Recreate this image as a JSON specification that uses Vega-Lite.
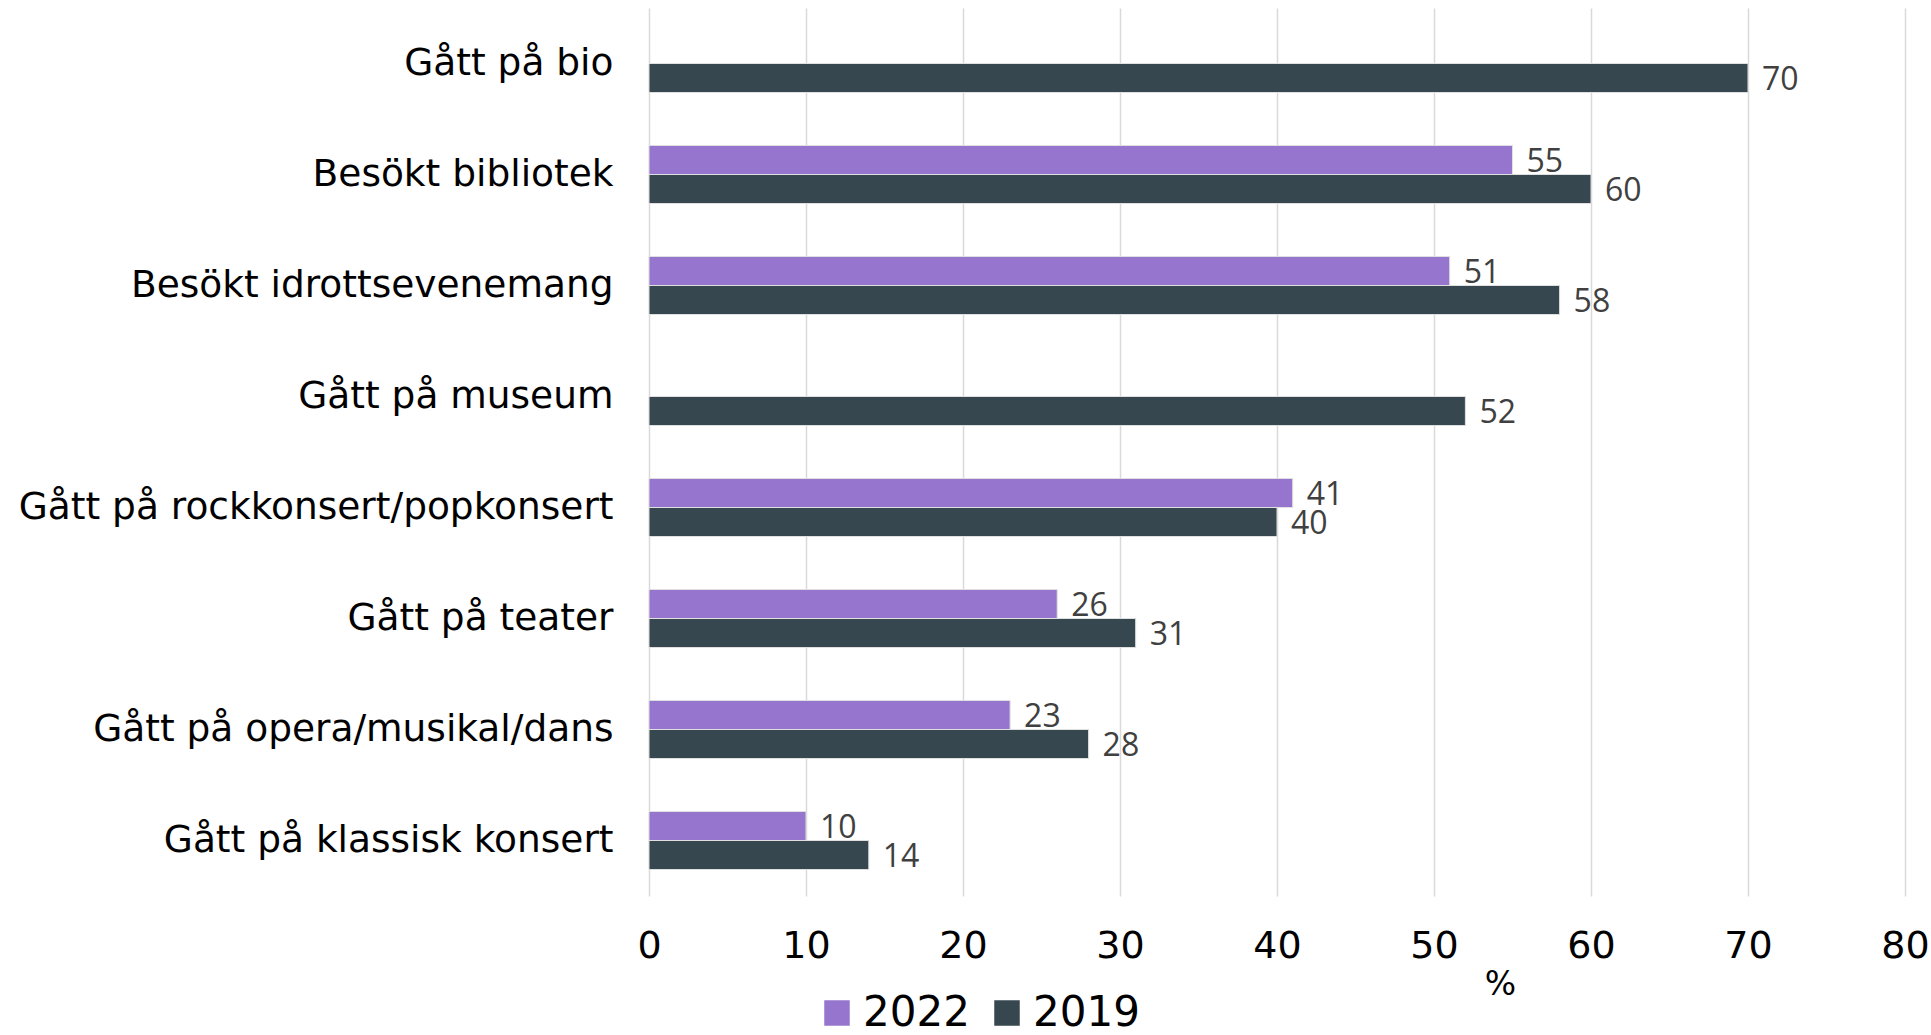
{
  "$schema": "https://vega.github.io/schema/vega-lite/v6.json",
  "autosize": "none",
  "width": 1256,
  "height": 888,
  "padding": {"left": 649, "top": 8, "right": 26, "bottom": 139},
  "background": "white",
  "config": {"view": {"stroke": null}, "font": "DejaVu Sans"},
  "data": {"values": [
    {"cat": "Gått på bio", "year": "2019", "value": 70},
    {"cat": "Besökt bibliotek", "year": "2022", "value": 55},
    {"cat": "Besökt bibliotek", "year": "2019", "value": 60},
    {"cat": "Besökt idrottsevenemang", "year": "2022", "value": 51},
    {"cat": "Besökt idrottsevenemang", "year": "2019", "value": 58},
    {"cat": "Gått på museum", "year": "2019", "value": 52},
    {"cat": "Gått på rockkonsert/popkonsert", "year": "2022", "value": 41},
    {"cat": "Gått på rockkonsert/popkonsert", "year": "2019", "value": 40},
    {"cat": "Gått på teater", "year": "2022", "value": 26},
    {"cat": "Gått på teater", "year": "2019", "value": 31},
    {"cat": "Gått på opera/musikal/dans", "year": "2022", "value": 23},
    {"cat": "Gått på opera/musikal/dans", "year": "2019", "value": 28},
    {"cat": "Gått på klassisk konsert", "year": "2022", "value": 10},
    {"cat": "Gått på klassisk konsert", "year": "2019", "value": 14}
  ]},
  "encoding": {
    "y": {
      "field": "cat", "type": "nominal",
      "sort": ["Gått på bio", "Besökt bibliotek", "Besökt idrottsevenemang", "Gått på museum", "Gått på rockkonsert/popkonsert", "Gått på teater", "Gått på opera/musikal/dans", "Gått på klassisk konsert"],
      "scale": {"paddingInner": 0.477, "paddingOuter": 0.2385},
      "axis": {"title": null, "domain": false, "ticks": false, "grid": false, "labelFontSize": 37.5, "labelColor": "#000000", "labelPadding": 36, "labelFont": "DejaVu Sans", "labelLimit": 700}
    },
    "yOffset": {"field": "year", "type": "nominal", "sort": ["2022", "2019"], "scale": {"paddingInner": 0, "paddingOuter": 0}},
    "x": {
      "field": "value", "type": "quantitative",
      "scale": {"domain": [0, 80], "nice": false},
      "axis": {"title": "%", "values": [0, 10, 20, 30, 40, 50, 60, 70, 80], "domain": false, "ticks": false, "grid": true, "gridColor": "#d9d9d9", "gridWidth": 1.5, "labelFlush": false, "labelFontSize": 38, "labelColor": "#000000", "labelPadding": 31, "labelFont": "DejaVu Sans", "titleFontSize": 33, "titleFontWeight": "normal", "titleColor": "#000000", "titleX": 851, "titleY": 88, "titleBaseline": "middle", "titleFont": "DejaVu Sans"}
    }
  },
  "layer": [
    {
      "mark": {"type": "bar", "stroke": "#e0e0e0", "strokeWidth": 1},
      "encoding": {
        "color": {
          "field": "year", "type": "nominal",
          "scale": {"domain": ["2022", "2019"], "range": ["#9575cd", "#37474f"]},
          "legend": {"title": null, "orient": "none", "direction": "horizontal", "legendX": 167, "legendY": 984, "symbolType": "square", "symbolSize": 650, "symbolStrokeWidth": 0, "labelFontSize": 42, "labelColor": "#000000", "labelFont": "DejaVu Sans", "labelOffset": 5, "columnPadding": 16}
        }
      }
    },
    {
      "mark": {"type": "text", "align": "left", "baseline": "middle", "dx": 14, "dy": 2, "font": "Open Sans", "fontSize": 32, "color": "#404040"},
      "encoding": {"text": {"field": "value", "type": "quantitative"}}
    }
  ]
}
